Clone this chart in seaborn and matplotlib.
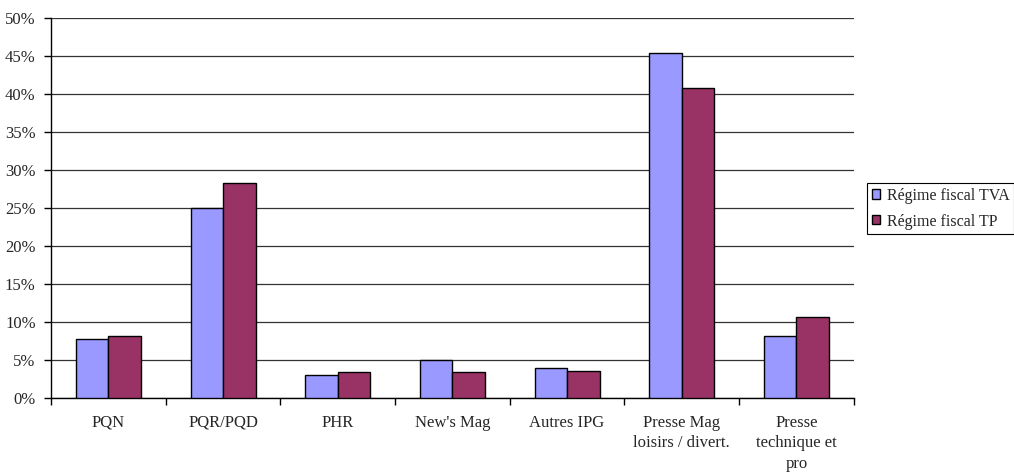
import numpy as np
import pandas as pd
import matplotlib
matplotlib.use("Agg")
import matplotlib.pyplot as plt
import seaborn as sns
from matplotlib.ticker import PercentFormatter

categories = ["PQN", "PQR/PQD", "PHR", "New's Mag", "Autres IPG",
              "Presse Mag\nloisirs / divert.", "Presse\ntechnique et\npro"]
series_names = ["Régime fiscal TVA", "Régime fiscal TP"]
tva_values = [7.7, 25.0, 3.0, 5.0, 4.0, 45.4, 8.2]
tp_values = [8.2, 28.3, 3.4, 3.4, 3.6, 40.8, 10.7]
colors = ["#9999FF", "#993366"]

df = pd.DataFrame({
    "categorie": categories * 2,
    "regime": [series_names[0]] * len(categories) + [series_names[1]] * len(categories),
    "part": tva_values + tp_values,
})

sns.set_style("white")
plt.rcParams["font.family"] = ["Liberation Serif", "DejaVu Serif"]

fig = plt.figure(figsize=(10.14, 4.73), dpi=100)
ax = fig.add_axes([0.0503, 0.1586, 0.7917, 0.8034])

sns.barplot(data=df, x="categorie", y="part", hue="regime", order=categories,
            hue_order=series_names, palette=colors, width=0.567, gap=0,
            edgecolor="black", linewidth=1.0, saturation=1, ax=ax, zorder=3)

ax.set_xlim(-0.5, len(categories) - 0.5)
ax.set_ylim(0, 50)
ax.set_yticks(np.arange(0, 51, 5))
ax.yaxis.set_major_formatter(PercentFormatter(decimals=0))
ax.yaxis.grid(True, color="#333333", linewidth=0.9, zorder=0)
ax.set_axisbelow(True)

# category labels centred, tick marks on the category boundaries
ax.set_xticks(range(len(categories)))
ax.set_xticklabels(categories, linespacing=1.38)
ax.set_xticks(np.arange(-0.5, len(categories), 1), minor=True)
ax.tick_params(axis="x", which="major", length=0, pad=12, labelsize=12)
ax.tick_params(axis="x", which="minor", length=5, width=1, color="black",
               direction="out", bottom=True)
ax.tick_params(axis="y", length=5, width=1, color="black", direction="out",
               left=True, pad=6, labelsize=12)

for side in ["top", "right"]:
    ax.spines[side].set_visible(False)
for side in ["left", "bottom"]:
    ax.spines[side].set_color("black")
    ax.spines[side].set_linewidth(1)

ax.set_xlabel("")
ax.set_ylabel("")

leg = ax.legend(loc="center left", bbox_to_anchor=(0.855, 0.559),
                bbox_transform=fig.transFigure, frameon=True, fancybox=False,
                edgecolor="black", framealpha=1, fontsize=11.5,
                handlelength=0.5, handleheight=0.5, handletextpad=0.45,
                borderpad=0.3, labelspacing=0.62, borderaxespad=0)
leg.get_frame().set_linewidth(0.8)

fig.savefig("out.png", dpi=100)
